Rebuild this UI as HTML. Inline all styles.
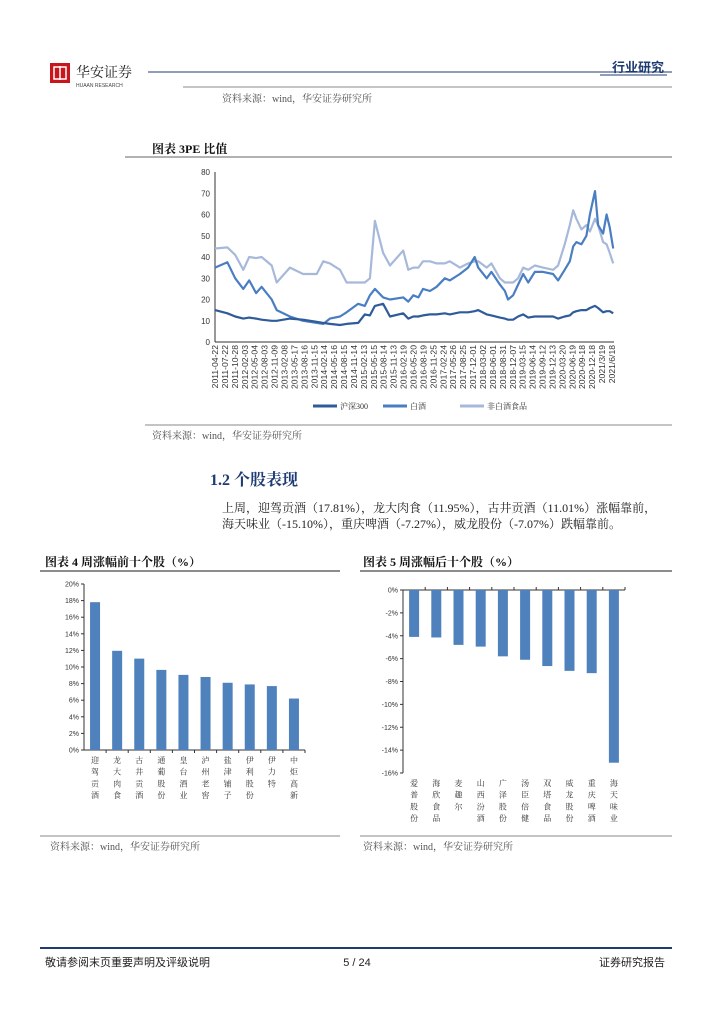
<!DOCTYPE html>
<html><head><meta charset="utf-8"><style>
body{margin:0;background:#fff;}
svg{display:block;font-family:"Liberation Serif","Noto Serif CJK SC",serif;}
.s{font-family:"Liberation Sans","Noto Sans CJK SC",sans-serif;}
</style></head><body>
<svg id="page" width="724" height="1024" viewBox="0 0 724 1024">
<g>
 <rect x="50" y="63" width="20" height="20" fill="#c8161d"/>
 <rect x="54" y="67" width="12" height="12" fill="none" stroke="#fff" stroke-width="1.5"/>
 <line x1="60" y1="66" x2="60" y2="80" stroke="#fff" stroke-width="1.5"/>
 <text x="76" y="77" font-size="14" fill="#222">华安证券</text>
 <text x="76" y="87" font-size="5" fill="#444" class="s">HUAAN RESEARCH</text>
 <line x1="148" y1="72" x2="672" y2="72" stroke="#1f3b73" stroke-width="1"/>
 <text x="664" y="72" font-size="13" font-weight="bold" text-anchor="end" fill="#1f3b73" class="s">行业研究</text>
 <line x1="600" y1="75" x2="667" y2="75" stroke="#1f3b73" stroke-width="1"/>
 <line x1="183" y1="87" x2="672" y2="87" stroke="#888" stroke-width="1"/>
 <text x="222" y="102" font-size="10" fill="#555">资料来源：wind，华安证券研究所</text>
</g>
<text x="152" y="153" font-size="12" font-weight="bold" fill="#111">图表 3PE 比值</text>
<line x1="125" y1="157" x2="672" y2="157" stroke="#666" stroke-width="1"/>
<g id="pe"></g>
<line x1="145" y1="425" x2="672" y2="425" stroke="#888" stroke-width="1"/>
<text x="152" y="439" font-size="10" fill="#555">资料来源：wind，华安证券研究所</text>
<text x="210" y="485" font-size="16" font-weight="bold" fill="#1f3b73">1.2 个股表现</text>
<text x="222" y="512" font-size="12" fill="#222">上周，迎驾贡酒（17.81%），龙大肉食（11.95%），古井贡酒（11.01%）涨幅靠前，</text>
<text x="222" y="528" font-size="12" fill="#222">海天味业（-15.10%），重庆啤酒（-7.27%），威龙股份（-7.07%）跌幅靠前。</text>
<text x="45" y="566" font-size="12" font-weight="bold" fill="#111">图表 4 周涨幅前十个股（%）</text>
<line x1="40" y1="571" x2="340" y2="571" stroke="#666" stroke-width="1.5"/>
<text x="363" y="566" font-size="12" font-weight="bold" fill="#111">图表 5 周涨幅后十个股（%）</text>
<line x1="360" y1="571" x2="672" y2="571" stroke="#666" stroke-width="1.5"/>
<g id="top"></g>
<g id="bot"></g>
<line x1="40" y1="836" x2="340" y2="836" stroke="#888" stroke-width="1"/>
<line x1="360" y1="836" x2="672" y2="836" stroke="#888" stroke-width="1"/>
<text x="50" y="850" font-size="10" fill="#555">资料来源：wind，华安证券研究所</text>
<text x="363" y="850" font-size="10" fill="#555">资料来源：wind，华安证券研究所</text>
<line x1="40" y1="948" x2="672" y2="948" stroke="#1f3b73" stroke-width="2"/>
<text x="45" y="966" font-size="11" fill="#222" class="s">敬请参阅末页重要声明及评级说明</text>
<text x="357" y="966" font-size="11" fill="#222" text-anchor="middle" class="s">5 / 24</text>
<text x="665" y="966" font-size="11" fill="#222" text-anchor="end" class="s">证券研究报告</text>
</svg>
<script>
const NS="http://www.w3.org/2000/svg";
const peDates=[2011.30,2011.62,2011.82,2012.03,2012.18,2012.36,2012.50,2012.76,2012.89,2013.23,2013.57,2013.92,2014.09,2014.26,2014.52,2014.69,2014.99,2015.16,2015.29,2015.42,2015.63,2015.81,2016.15,2016.28,2016.41,2016.54,2016.66,2016.84,2017.01,2017.22,2017.35,2017.61,2017.82,2017.99,2018.08,2018.30,2018.42,2018.64,2018.77,2018.85,2018.98,2019.11,2019.24,2019.37,2019.54,2019.75,2020.01,2020.14,2020.31,2020.44,2020.53,2020.61,2020.74,2020.87,2020.96,2021.09,2021.17,2021.30,2021.39,2021.47,2021.56];
const hs300=[15,13.5,12,11,11.5,11,10.5,10,10,11,10.5,9.5,9,8.5,8,8.5,9,13,12.5,17,18,12,13.5,11,12,12,12.5,13,13,13.5,13,14,14,14.5,15,13,12.5,11.5,11,10.5,10.5,12,13,11.5,12,12,12,11,12,12.5,14,14.5,15,15,16,17,16,14,14.5,14.5,13.5];
const baijiu=[35,37.5,30,25,29,23,26,20,15,12,10,9,8.5,11,12,14,18,17,22,25,21,20,21,19,22,21,25,24,26,30,29,32,35,40,35,30,33,27,24,20,22,27,32,28,33,33,32,29,34,38,45,47,46,50,60,71,55,51,60,54,44];
const food=[44,44.5,41,34,40,39.5,40,36,28,35,32,32,38,37,34,28,28,28,30,57,42,36,43,34,35,35,38,38,37,37,38,35,37,38,38,35,37,30,28,28,28,30,35,34,36,35,34,36,46,55,62,58,53,55,52,58,55,47,46,42,37];
const peYTicks=[0,10,20,30,40,50,60,70,80];
const peXLabels=["2011-04-22","2011-07-22","2011-10-28","2012-02-03","2012-05-04","2012-08-03","2012-11-09","2013-02-08","2013-05-17","2013-08-16","2013-11-15","2014-02-14","2014-05-16","2014-08-15","2014-11-14","2015-02-13","2015-05-15","2015-08-14","2015-11-13","2016-02-19","2016-05-20","2016-08-19","2016-11-25","2017-02-24","2017-05-26","2017-08-25","2017-12-01","2018-03-02","2018-06-01","2018-08-31","2018-12-07","2019-03-15","2019-06-14","2019-09-12","2019-12-13","2020-03-20","2020-06-19","2020-09-18","2020-12-18","2021/3/19","2021/6/18"];
const seriesNames=["沪深300","白酒","非白酒食品"];
const topNames=["迎驾贡酒","龙大肉食","古井贡酒","通葡股份","皇台酒业","泸州老窖","盐津铺子","伊利股份","伊力特","中炬高新"];
const topVals=[17.81,11.95,11.01,9.65,9.05,8.8,8.1,7.9,7.7,6.2];
const topTicks=[0,2,4,6,8,10,12,14,16,18,20];
const botNames=["爱普股份","海欣食品","麦趣尔","山西汾酒","广泽股份","汤臣倍健","双塔食品","威龙股份","重庆啤酒","海天味业"];
const botVals=[-4.1,-4.15,-4.8,-4.95,-5.8,-6.1,-6.65,-7.07,-7.27,-15.10];
const botTicks=[0,-2,-4,-6,-8,-10,-12,-14,-16];

function el(tag,attrs,parent,text){const e=document.createElementNS(NS,tag);for(const k in attrs)e.setAttribute(k,attrs[k]);if(text!==undefined)e.textContent=text;parent.appendChild(e);return e;}

(function(){
 const g=document.getElementById('pe');
 const X0=215,X1=614,Y0=342,Y1=172,d0=2011.30,d1=2021.58;
 const xs=d=>X0+(d-d0)/(d1-d0)*(X1-X0);
 const ys=v=>Y0-v/80*(Y0-Y1);
 el('line',{x1:X0,y1:Y1,x2:X0,y2:Y0,stroke:'#333','stroke-width':1},g);
 el('line',{x1:X0,y1:Y0,x2:X1,y2:Y0,stroke:'#333','stroke-width':1},g);
 peYTicks.forEach(v=>{
  const t=el('text',{x:X0-5,y:ys(v)+3,'font-size':8,'text-anchor':'end',fill:'#333',class:'s'},g,String(v));
  
  
 });
 const n=peXLabels.length;
 peXLabels.forEach((l,i)=>{
  const x=X0+i*(612-X0)/(n-1);
  const t=el('text',{x:0,y:0,'font-size':8.6,'text-anchor':'end',fill:'#333',class:'s',transform:`translate(${x+3},${Y0+3}) rotate(-90)`},g,l);
  
  
 });
 const cols=['#2f5b9a','#4a7ec2','#a7b9da'];
 [food,baijiu,hs300].forEach((s,k)=>{
  const idx=2-k;
  const p=el('polyline',{points:s.map((v,i)=>xs(peDates[i]).toFixed(1)+','+ys(v).toFixed(1)).join(' '),fill:'none',stroke:cols[idx],'stroke-width':2.2,'stroke-linejoin':'round'},g);
  
  
 });
 const lx=[313,383,460];
 seriesNames.forEach((nm,i)=>{
  const l=el('line',{x1:lx[i],y1:406,x2:lx[i]+24,y2:406,stroke:cols[i],'stroke-width':3},g);
  
  
  const t=el('text',{x:lx[i]+27,y:409,'font-size':8,fill:'#333'},g,nm);
  
  
 });
})();

function barChart(gid,names,vals,ticks,X0,X1,Yzero,vmin,vmax,Ytop,Ybot,labY,pref){
 const g=document.getElementById(gid);
 const ys=v=>Ybot-(v-vmin)/(vmax-vmin)*(Ybot-Ytop);
 el('line',{x1:X0,y1:Ytop,x2:X0,y2:Ybot,stroke:'#333','stroke-width':1},g);
 el('line',{x1:X0,y1:ys(0),x2:X1,y2:ys(0),stroke:'#333','stroke-width':1},g);
 ticks.forEach(v=>{
  el('line',{x1:X0-3,y1:ys(v),x2:X0,y2:ys(v),stroke:'#333'},g);
  const t=el('text',{x:X0-5,y:ys(v)+2.5,'font-size':7,'text-anchor':'end',fill:'#333',class:'s'},g,v+'%');
  
  
 });
 const w=(X1-X0)/names.length;
 names.forEach((nm,i)=>{
  el('line',{x1:X0+w*(i+1),y1:ys(0),x2:X0+w*(i+1),y2:ys(0)+(vals[i]<0?-3:3),stroke:'#333'},g);
  const y=Math.min(ys(0),ys(vals[i])),h=Math.abs(ys(vals[i])-ys(0));
  const r=el('rect',{x:X0+w*i+w/2-5,y:y,width:10,height:h,fill:'#4f81bd'},g);
  
  
  [...nm].forEach((c,j)=>{
   const t=el('text',{x:X0+w*i+w/2,y:labY+j*11.7,'font-size':8,'text-anchor':'middle',fill:'#333'},g,c);
   
   
  });
 });
}
barChart('top',topNames,topVals,topTicks,84,305,750,0,20,584,750,763,'top10');
barChart('bot',botNames,botVals,botTicks,403,625,590,-16,0,590,773,786,'bottom10');
</script>
</body></html>
